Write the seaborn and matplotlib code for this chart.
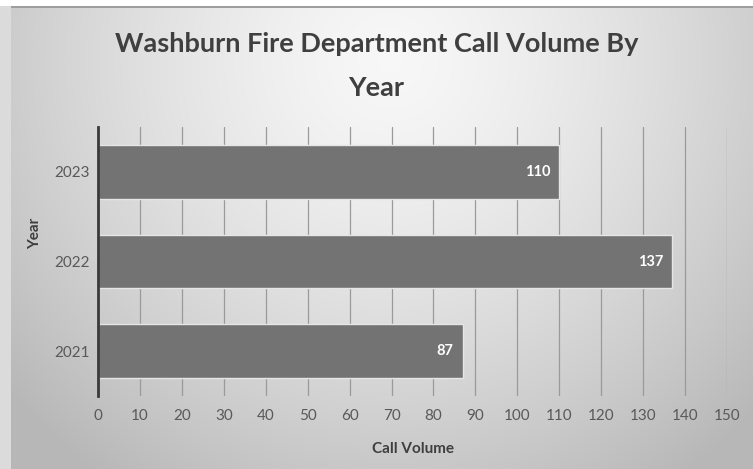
import numpy as np
import matplotlib
matplotlib.use("Agg")
import matplotlib.pyplot as plt
import seaborn as sns

# data
years = ["2023", "2022", "2021"]
calls = [110, 137, 87]
x_ticks = list(range(0, 151, 10))

sns.set_style("white")
plt.rcParams["font.family"] = ["Lato", "DejaVu Sans"]

W, H = 753, 469
fig = plt.figure(figsize=(W / 100, H / 100), dpi=100)

# radial grey background
bg = fig.add_axes([0, 0, 1, 1], zorder=0)
yy, xx = np.mgrid[0:H, 0:W]
r = np.sqrt(((xx - 390) / 520.0) ** 2 + ((yy - 60) / 520.0) ** 2)
shade = np.clip(0.97 - 0.26 * r ** 1.4, 0.72, 0.97)
img = np.dstack([shade, shade, shade])
img[:6, :, :] = 1.0
img[6:8, :, :] = 0.62
img[:, :11, :] = np.maximum(img[:, :11, :], 0.86)
bg.imshow(img, extent=[0, W, H, 0], aspect="auto", interpolation="bilinear")
bg.set_axis_off()

ax = fig.add_axes([98 / W, 1 - 396 / H, (727 - 98) / W, (396 - 127) / H], zorder=1)
ax.patch.set_alpha(0)

sns.barplot(x=calls, y=years, order=years, color="#737374", width=0.6,
            edgecolor="#e6e6e6", linewidth=1.0, saturation=1, ax=ax, zorder=2)

for i, v in enumerate(calls):
    ax.text(v - 2.2, i, str(v), ha="right", va="center", color="white",
            fontsize=10.5, fontweight="bold", zorder=3)

ax.set_xlim(0, 150)
ax.set_ylim(2.5, -0.5)
ax.set_xticks(x_ticks)
ax.grid(axis="x", color="#9a9a9a", linewidth=0.9, zorder=1)
ax.grid(axis="y", visible=False)
ax.tick_params(axis="both", length=0, labelsize=11, labelcolor="#595959")
ax.tick_params(axis="x", pad=9)
ax.tick_params(axis="y", pad=6)
for s in ["top", "right", "bottom"]:
    ax.spines[s].set_visible(False)
ax.spines["left"].set_color("#3a3a3a")
ax.spines["left"].set_linewidth(2)

ax.set_xlabel("Call Volume", fontsize=11, fontweight="bold", color="#3f3f3f", labelpad=14)
ax.set_ylabel("Year", fontsize=11, fontweight="bold", color="#3f3f3f")
ax.yaxis.set_label_coords(-0.089, 0.606)

fig.text(0.5, 1 - 66 / H, "Washburn Fire Department Call Volume By\nYear",
         ha="center", va="center", fontsize=19.5, fontweight="bold",
         color="#3f3f3f", linespacing=1.98)

fig.savefig("out.png", dpi=100)
